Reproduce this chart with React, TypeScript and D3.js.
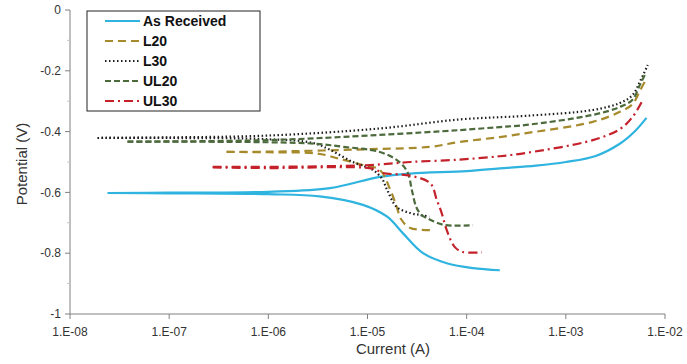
import React from 'react';
import { scaleLog, scaleLinear, line, curveCatmullRom } from 'd3';

// current (A), potential (V)
const asReceivedCath = [[2.4e-8,-0.602],[1e-7,-0.603],[1e-6,-0.606],[3.3e-6,-0.613],[9e-6,-0.641],[1.58e-5,-0.68],[2.27e-5,-0.734],[3.63e-5,-0.8],[6.3e-5,-0.833],[1.16e-4,-0.849],[2.16e-4,-0.856]];
const asReceivedAnod = [[2.4e-8,-0.602],[1e-7,-0.601],[1e-6,-0.598],[4.2e-6,-0.586],[1.33e-5,-0.549],[2.7e-5,-0.538],[1e-4,-0.53],[2.16e-4,-0.521],[5e-4,-0.512],[1e-3,-0.5],[2e-3,-0.48],[3.5e-3,-0.44],[5e-3,-0.398],[6.5e-3,-0.355]];

const l20Cath = [[3.8e-7,-0.467],[1e-6,-0.468],[3.1e-6,-0.472],[5.3e-6,-0.49],[9e-6,-0.51],[1.33e-5,-0.526],[1.7e-5,-0.592],[1.97e-5,-0.648],[2.2e-5,-0.69],[2.7e-5,-0.717],[4.6e-5,-0.724]];
const l20Anod = [[3.8e-7,-0.467],[1e-6,-0.466],[1e-5,-0.458],[4.3e-5,-0.45],[8.5e-5,-0.434],[2.16e-4,-0.418],[4e-4,-0.405],[1.87e-3,-0.368],[3.5e-3,-0.335],[4.7e-3,-0.31],[5.6e-3,-0.265],[6.25e-3,-0.236]];

const l30Cath = [[1.9e-8,-0.421],[1e-7,-0.421],[1e-6,-0.425],[2.8e-6,-0.437],[4.2e-6,-0.46],[7.1e-6,-0.5],[1.13e-5,-0.526],[1.4e-5,-0.555],[1.58e-5,-0.592],[1.97e-5,-0.648],[2.7e-5,-0.668],[3.37e-5,-0.674],[4.2e-5,-0.68]];
const l30Anod = [[1.9e-8,-0.421],[1e-7,-0.419],[1e-6,-0.413],[1.3e-5,-0.39],[8.5e-5,-0.36],[4e-4,-0.348],[1.87e-3,-0.329],[3.5e-3,-0.306],[4.7e-3,-0.28],[5.6e-3,-0.235],[6.7e-3,-0.181]];

const ul20Cath = [[3.8e-8,-0.433],[1e-6,-0.435],[3e-6,-0.44],[5.65e-6,-0.45],[1.33e-5,-0.467],[2.1e-5,-0.5],[2.55e-5,-0.536],[2.8e-5,-0.592],[3.1e-5,-0.648],[3.5e-5,-0.674],[4.3e-5,-0.69],[5.9e-5,-0.707],[1.16e-4,-0.708]];
const ul20Anod = [[3.8e-8,-0.433],[1e-6,-0.428],[1.3e-5,-0.411],[8.5e-5,-0.395],[2.16e-4,-0.385],[4e-4,-0.378],[1.87e-3,-0.345],[3.5e-3,-0.319],[4.7e-3,-0.295],[5.6e-3,-0.245],[6.25e-3,-0.214]];

const ul30Cath = [[2.75e-7,-0.518],[1e-6,-0.52],[1.13e-5,-0.522],[1.43e-5,-0.536],[2.7e-5,-0.545],[4.3e-5,-0.57],[5e-5,-0.625],[5.6e-5,-0.668],[6.3e-5,-0.724],[7.6e-5,-0.78],[9.2e-5,-0.796],[1.42e-4,-0.797]];
const ul30Anod = [[2.75e-7,-0.516],[1e-6,-0.516],[1.06e-5,-0.51],[2.7e-5,-0.5],[8.5e-5,-0.492],[2.16e-4,-0.481],[4e-4,-0.47],[1.87e-3,-0.428],[3.5e-3,-0.392],[4.7e-3,-0.352],[5.97e-3,-0.296]];

const seriesNames = ['As Received', 'L20', 'L30', 'UL20', 'UL30'];
const xTicks = [1e-8, 1e-7, 1e-6, 1e-5, 1e-4, 1e-3, 1e-2];
const xTickLabels = ['1.E-08', '1.E-07', '1.E-06', '1.E-05', '1.E-04', '1.E-03', '1.E-02'];
const yTicks = [0, -0.2, -0.4, -0.6, -0.8, -1];
const yTickLabels = ['0', '-0.2', '-0.4', '-0.6', '-0.8', '-1'];
const yMinorTicks = [-0.1, -0.3, -0.5, -0.7, -0.9];

const styles = [
  { color: '#2fb3df', dash: null, width: 2.2 },
  { color: '#a68a2c', dash: '8,5', width: 2.2 },
  { color: '#1e1e1e', dash: '1.5,2.5', width: 2.2 },
  { color: '#4c6a3c', dash: '6,3', width: 2.2 },
  { color: '#c4212b', dash: '9,4,2,4', width: 2.2 },
];

const series = [
  [asReceivedCath, asReceivedAnod],
  [l20Cath, l20Anod],
  [l30Cath, l30Anod],
  [ul20Cath, ul20Anod],
  [ul30Cath, ul30Anod],
];

const App = () => {
  const width = 687;
  const height = 364;
  const x = scaleLog().domain([1e-8, 1e-2]).range([70, 665]);
  const y = scaleLinear().domain([-1, 0]).range([314, 10]);
  const path = line<number[]>()
    .x(d => x(d[0]))
    .y(d => y(d[1]))
    .curve(curveCatmullRom.alpha(0.5));

  const font = '"Liberation Sans", Arial, sans-serif';
  const axisColor = '#808080';

  return (
    <svg width={width} height={height} style={{ position: 'absolute', left: 0, top: 0 }} fontFamily={font}>
      <rect width={width} height={height} fill="#fff" />
      {/* curves */}
      {series.map((branches, i) => branches.map((b, j) => (
        <path key={`${i}-${j}`} d={path(b) || ''} fill="none" stroke={styles[i].color}
          strokeWidth={styles[i].width} strokeDasharray={styles[i].dash || undefined} />
      )))}

      {/* axes */}
      <line x1={70} x2={70} y1={10} y2={314} stroke={axisColor} />
      <line x1={70} x2={665} y1={314} y2={314} stroke={axisColor} />
      {yTicks.map((t, i) => (
        <g key={t}>
          <line x1={65} x2={70} y1={y(t)} y2={y(t)} stroke={axisColor} />
          <text x={61} y={y(t)} dy="0.35em" textAnchor="end" fontSize={12} fill="#333">{yTickLabels[i]}</text>
        </g>
      ))}
      {yMinorTicks.map(t => (
        <line key={t} x1={67} x2={70} y1={y(t)} y2={y(t)} stroke="#c8c8c8" />
      ))}
      {xTicks.map((t, i) => (
        <g key={t}>
          <line x1={x(t)} x2={x(t)} y1={314} y2={319} stroke={axisColor} />
          <text x={x(t)} y={332} dy="0.35em" textAnchor="middle" fontSize={12} fill="#333">{xTickLabels[i]}</text>
        </g>
      ))}
      <text x={393} y={349} dy="0.35em" textAnchor="middle" fontSize={15} fill="#333">Current (A)</text>
      <text transform="translate(22,164) rotate(-90)" dy="0.35em" textAnchor="middle" fontSize={15} fill="#333">Potential (V)</text>

      {/* legend */}
      <rect x={87} y={11} width={173} height={100} fill="#fff" stroke="#222" strokeWidth={1} />
      {seriesNames.map((n, i) => (
        <g key={n} transform={`translate(0, ${21 + i * 20})`}>
          <line x1={105} x2={140} y1={0} y2={0} stroke={styles[i].color}
            strokeWidth={styles[i].width} strokeDasharray={styles[i].dash || undefined} />
          <text x={143} y={0} dy="0.35em" fontSize={14} fontWeight="bold" fill="#111">{n}</text>
        </g>
      ))}
    </svg>
  );
};

export default App;
